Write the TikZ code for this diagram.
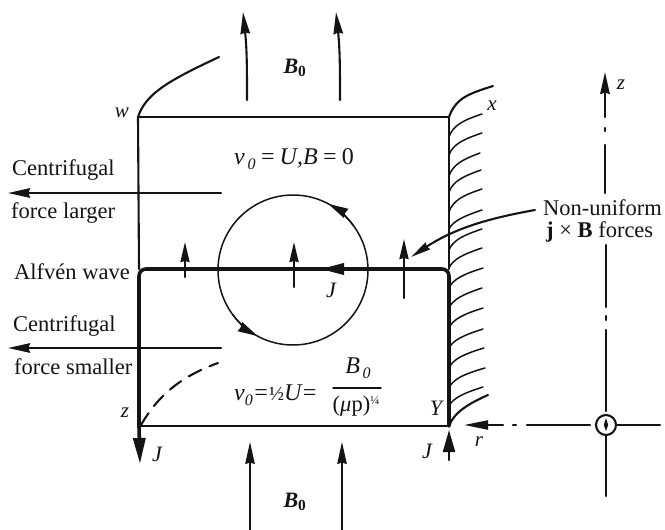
\documentclass[tikz,border=0pt]{standalone}
\usepackage{fontspec}
\setmainfont{Liberation Serif}
\usetikzlibrary{arrows.meta}
\tikzset{
  ink/.style={draw=black!92,line cap=round},
  thin line/.style={ink,line width=1.5pt},
  mid line/.style={ink,line width=2.1pt},
  heavy line/.style={ink,line width=3.6pt},
  head/.style={-{Stealth[length=22pt,width=9.5pt,inset=1.5pt]}},
  shorthead/.style={-{Stealth[length=20pt,width=9pt,inset=1pt]}},
  lbl/.style={inner sep=0pt,font=\fontsize{22.5}{24}\selectfont,text=black!92},
  small/.style={inner sep=0pt,font=\fontsize{21}{22}\selectfont\itshape,text=black!92},
  jlabel/.style={inner sep=0pt,font=\fontsize{22}{24}\selectfont\itshape,text=black!92},
  bfield/.style={inner sep=0pt,font=\fontsize{22}{24}\selectfont\bfseries\itshape,text=black!92},
  math/.style={inner sep=0pt,font=\fontsize{24}{26}\selectfont\itshape,text=black!92},
}
\begin{document}
\begin{tikzpicture}[x=1pt,y=-1pt]
\useasboundingbox (0,0) rectangle (665,530);
% Corners
\coordinate (W) at (138,117);
\coordinate (X) at (449,117);
\coordinate (Zc) at (139,426);
\coordinate (Yc) at (449,426);
\coordinate (AL) at (139,269);
\coordinate (AR) at (449,269);
% Box
\draw[mid line] (W) -- (X);
\draw[mid line] (Zc) -- (Yc);
\draw[mid line] (W) -- (AL);
\draw[mid line] (X) -- (AR);
% Alfven wave
\draw[heavy line,rounded corners=7pt] (Zc) -- (AL) -- (AR) -- (Yc);
% J arrows
\coordinate (Jd) at (140,464);
\coordinate (Ju) at (449,430);
\coordinate (Jub) at (449,460);
\draw[heavy line,-{Stealth[length=26pt,width=12pt,inset=0pt]}] (Zc) -- (Jd);
\draw[mid line,-{Stealth[length=22pt,width=12pt,inset=0pt]}] (Jub) -- (Ju);
\draw[heavy line,-{Stealth[length=24pt,width=11pt,inset=0pt]}] (370,269) -- (320,269);
% Field lines
\draw[mid line] (W) .. controls (146,93) and (170,80) .. (219,57);
\draw[mid line] (X) .. controls (456,98) and (468,94) .. (493,86);
\draw[mid line,dashed,dash pattern=on 14pt off 9pt] (141,425) .. controls (160,392) and (185,375) .. (218,363);
% Hatching on the wall
\foreach \ya/\yb/\xb in {137/114/482,155/133/482,176/153/480,192/170/481,212/189/482,229/210/482,250/229/482,268/248/482,
  288/268/483,308/288/482,328/308/483,348/329/483,368/348/484,388/368/485,406/387/483}{
  \draw[thin line] (449,\ya) .. controls (453,{\yb+11}) and (464,{\yb+6}) .. (\xb,\yb);
}
\draw[mid line] (Yc) .. controls (454,412) and (470,403) .. (488,395);
% B0 arrows
\coordinate (T1a) at (247,100);\coordinate (T1b) at (243,12);
\coordinate (T2a) at (340,100);\coordinate (T2b) at (336,12);
\draw[mid line,head] (T1a) .. controls (247,70) and (247,50) .. (T1b);
\draw[mid line,head] (T2a) .. controls (340,70) and (340,50) .. (T2b);
\coordinate (B1a) at (250,530);\coordinate (B1b) at (250,442);
\coordinate (B2a) at (342,530);\coordinate (B2b) at (342,442);
\draw[thin line,head] (B1a) -- (B1b);
\draw[thin line,head] (B2a) -- (B2b);
% Centrifugal arrows
\coordinate (C1a) at (221,193);\coordinate (C1b) at (8,193);
\coordinate (C2a) at (221,348);\coordinate (C2b) at (8,348);
\draw[mid line,head] (C1a) -- (C1b);
\draw[mid line,head] (C2a) -- (C2b);
% Circle
\coordinate (O) at (293,270);
\draw[thin line] (O) circle (75);
\draw[thin line,-{Stealth[length=20pt,width=10pt,inset=1pt]}] (353,225) arc[start angle=-37,end angle=-62,radius=75];
\draw[thin line,-{Stealth[length=20pt,width=10pt,inset=1pt]}] (233,315) arc[start angle=143,end angle=118,radius=75];
% Force arrows
\coordinate (F1a) at (185,277);\coordinate (F1b) at (185,242);
\coordinate (F2a) at (294,287);\coordinate (F2b) at (294,242);
\coordinate (F3a) at (404,298);\coordinate (F3b) at (404,239);
\draw[mid line,shorthead] (F1a) -- (F1b);
\draw[mid line,shorthead] (F2a) -- (F2b);
\draw[mid line,shorthead] (F3a) -- (F3b);
% Axis
\coordinate (Ax) at (606,425);
\draw[mid line,head] (605,117) -- (605,72);
\draw[mid line] (605,128) -- (605,131);
\draw[mid line] (605,145) -- (605,193);
\draw[mid line] (606,245) -- (606,307);
\draw[mid line] (606,316) -- (606,320);
\draw[mid line] (606,330) -- (606,411);
\node[circle,draw=black!92,line width=2.1pt,minimum size=20pt,inner sep=0pt] (circ) at (Ax) {};
\fill[black!92] (606,418) -- (608.2,425) -- (606,431) -- (603.8,425) -- cycle;
\coordinate (AxS) at (606,496);\coordinate (AxE) at (660,425);
\draw[mid line] (circ) -- (AxS);
\draw[mid line] (circ) -- (AxE);
\draw[mid line] (590,425) -- (527,425);
\draw[mid line] (513,425) -- (516,425);
\draw[mid line,-{Stealth[length=24pt,width=9pt,inset=0pt]}] (503,425) -- (464,425);
% Leader
\coordinate (La) at (535,210);\coordinate (Lb) at (411,257);
\draw[mid line,-{Stealth[length=20pt,width=8pt,inset=1pt]}] (La) .. controls (490,218) and (455,228) .. (Lb);
% Labels
\node[lbl,anchor=west] (c1) at (12,170) {Centrifugal};
\node[lbl,anchor=west] (f1) at (11,213) {force larger};
\node[lbl,anchor=west] (aw) at (14,272) {Alfvén wave};
\node[lbl,anchor=west] (c2) at (13,326) {Centrifugal};
\node[lbl,anchor=west] (f2) at (14,367) {force smaller};
\node[lbl,anchor=west] (nu) at (543,208) {Non-uniform};
\node[lbl,anchor=west] (jb) at (546,232) {\textbf{j} × \textbf{B} forces};
\node[small] (w) at (122,113) {w};
\node[small] (z1) at (125,413) {z};
\node[small] (x1) at (492,106) {x};
\node[jlabel] (y1) at (436,408) {Y};
\node[jlabel] (j1) at (157,454) {J};
\node[jlabel] (j2) at (427,451) {J};
\node[jlabel] (j3) at (331,290) {J};
\node[small] (r1) at (479,442) {r};
\node[small] (z2) at (621,85) {z};
\node[bfield] (b1) at (295,68) {B\textsubscript{\upshape 0}};
\node[bfield] (b2) at (295,502) {B\textsubscript{\upshape 0}};
\node[math,anchor=west] (v1) at (234,159) {v\raisebox{-5pt}{\fontsize{16}{16}\selectfont\,0}\,=\,U,B\,=\,\upshape 0};
\node[math,anchor=west] (v2) at (234,395) {v\raisebox{-5pt}{\fontsize{16}{16}\selectfont 0}={\upshape\fontsize{20}{20}\selectfont ½}U=};
\node[math] (b3) at (358,368) {B\raisebox{-5pt}{\fontsize{16}{16}\selectfont\,0}};
\coordinate (Fa) at (333,388);\coordinate (Fb) at (381,388);
\draw[thin line] (Fa) -- (Fb);
\node[lbl] (mu) at (356,406) {(\textit{μ}p)\raisebox{7pt}{\fontsize{12}{12}\selectfont ¼}};
\end{tikzpicture}
\end{document}
